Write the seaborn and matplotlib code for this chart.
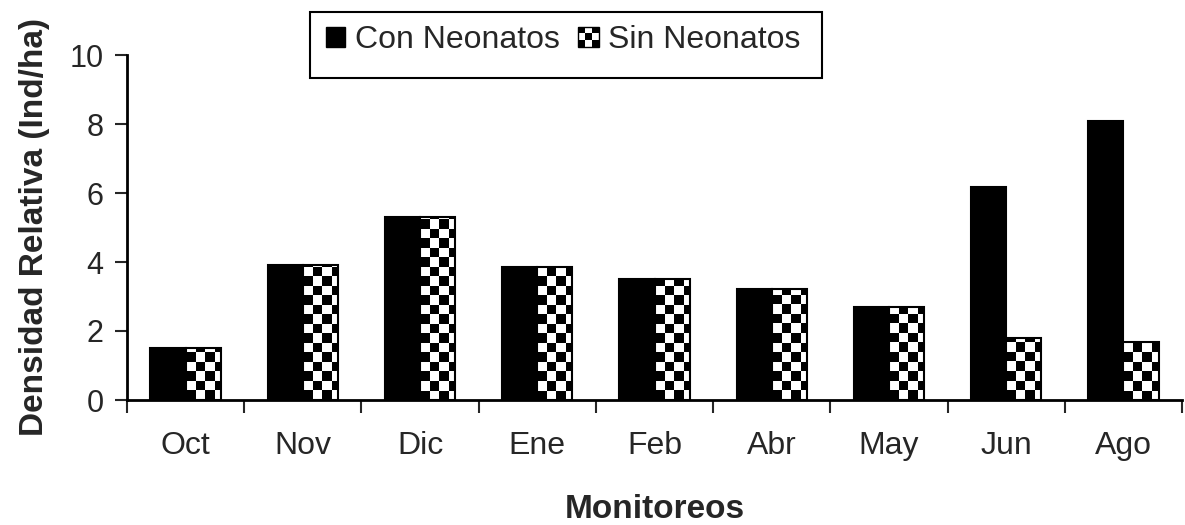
# Densidad relativa por monitoreo, con y sin neonatos
import numpy as np
import pandas as pd
import matplotlib
matplotlib.use("Agg")
import matplotlib.pyplot as plt
import seaborn as sns
from matplotlib.patches import Patch, Rectangle
from matplotlib.legend_handler import HandlerBase

# datos
meses = ["Oct", "Nov", "Dic", "Ene", "Feb", "Abr", "May", "Jun", "Ago"]
con_neonatos = [1.5, 3.9, 5.3, 3.85, 3.5, 3.22, 2.7, 6.18, 8.1]
sin_neonatos = [1.5, 3.9, 5.3, 3.85, 3.5, 3.22, 2.7, 1.8, 1.68]
grupos = ["Con Neonatos", "Sin Neonatos"]

df = pd.DataFrame({
    "mes": meses * 2,
    "dens": con_neonatos + sin_neonatos,
    "grupo": [grupos[0]] * len(meses) + [grupos[1]] * len(meses),
})

sns.set_style("white")
plt.rcParams["font.family"] = ["Liberation Sans", "DejaVu Sans"]

W, H = 1185, 525
fig = plt.figure(figsize=(W / 100, H / 100), dpi=100)
ax = fig.add_axes([127 / W, 125 / H, (1182 - 127) / W, 345 / H])

sns.barplot(data=df, x="mes", y="dens", hue="grupo", palette=["black", "white"],
            edgecolor="black", linewidth=1.5, width=0.6, legend=False, ax=ax)

ax.set_xlim(-0.5, len(meses) - 0.5)
ax.set_ylim(0, 10)

# relleno de tablero de ajedrez para "Sin Neonatos"
cell = 9.5  # px
dx = cell / ((1182 - 127) / len(meses))
dy = cell / (345 / 10)
for bar in ax.containers[1]:
    x0, y0 = bar.get_x(), bar.get_y()
    w, h = bar.get_width(), bar.get_height()
    nc = int(np.ceil(w / dx))
    nr = int(np.ceil(h / dy))
    board = np.indices((nr, nc)).sum(axis=0) % 2
    im = ax.imshow(board, cmap="gray", origin="lower", interpolation="nearest",
                   extent=(x0, x0 + nc * dx, y0, y0 + nr * dy), aspect="auto", zorder=2.5)
    im.set_clip_path(bar)
    bar.set_zorder(3)
    bar.set_facecolor("none")

ax.set_xlim(-0.5, len(meses) - 0.5)
ax.set_ylim(0, 10)

sns.despine(ax=ax)
for s in ["left", "bottom"]:
    ax.spines[s].set_linewidth(2)
    ax.spines[s].set_color("black")

ax.set_yticks([0, 2, 4, 6, 8, 10])
ax.tick_params(axis="y", direction="out", length=9, width=1.5, labelsize=22, pad=8, left=True)
ax.set_xticks(range(len(meses)))
ax.set_xticklabels(meses)
ax.set_xticks(np.arange(-0.5, len(meses), 1), minor=True)
ax.tick_params(axis="x", which="major", length=0, labelsize=23, pad=22)
ax.tick_params(axis="x", which="minor", direction="out", length=9, width=1.5, bottom=True)

ax.set_xlabel("Monitoreos", fontsize=24, fontweight="bold", labelpad=24)
ax.set_ylabel("Densidad Relativa (Ind/ha)", fontsize=24, fontweight="bold", labelpad=14)


class CheckerHandler(HandlerBase):
    def create_artists(self, legend, orig_handle, xdescent, ydescent,
                       width, height, fontsize, trans):
        n = 3
        s = height / n
        x0 = -xdescent + (width - height) / 2
        arts = [Rectangle((x0, -ydescent), height, height, facecolor="white",
                          edgecolor="black", lw=1, transform=trans)]
        for i in range(n):
            for j in range(n):
                if (i + j) % 2 == 0:
                    arts.append(Rectangle((x0 + j * s, -ydescent + i * s), s, s,
                                          facecolor="black", lw=0, transform=trans))
        return arts


handles = [Patch(facecolor="black", edgecolor="black"), Patch(facecolor="white")]
fig.legend(handles, grupos, loc="center", bbox_to_anchor=(563 / W, 1 - 40 / H),
           ncol=2, frameon=False, fontsize=23, handlelength=0.6, handleheight=0.6,
           handletextpad=0.3, columnspacing=0.6,
           handler_map={handles[1]: CheckerHandler()})
fig.patches.append(Rectangle((310 / W, 1 - 78 / H), 512 / W, 66 / H, fill=False,
                             edgecolor="black", lw=1.5, transform=fig.transFigure))

fig.savefig("out.png", dpi=100)
